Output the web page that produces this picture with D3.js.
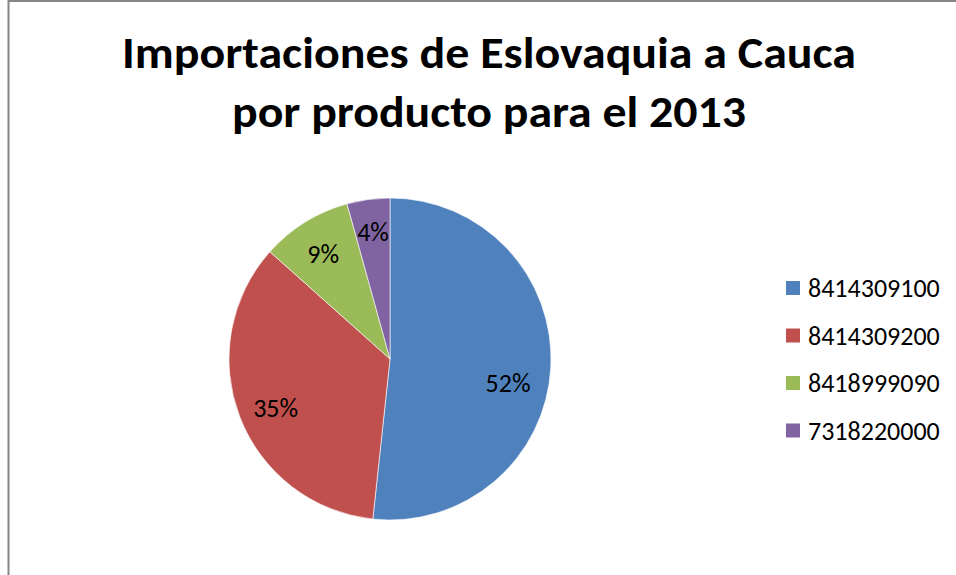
<!DOCTYPE html>
<html>
<head>
    <title>Importaciones</title>
    <script src="https://d3js.org/d3.v7.min.js"></script>
    <style>
        body { margin: 0; background: #fff; }
        svg { display: block; }
    </style>
</head>
<body>
    <svg id="chart"></svg>
    <script>
        // data
        const products = ["8414309100", "8414309200", "8418999090", "7318220000"];
        const shares = [51.7, 34.9, 9.1, 4.3];
        const colors = ["#4F81BD", "#C0504D", "#9BBB59", "#8064A2"];

        const width = 956, height = 575;
        const cx = 390, cy = 359, r = 161;
        const font = "Carlito, Calibri, Lato, sans-serif";

        const svg = d3.select("#chart")
            .attr("width", width)
            .attr("height", height);

        // chart frame (only left and top edges are visible)
        svg.append("rect")
            .attr("x", 8.5).attr("y", 1)
            .attr("width", 1000).attr("height", 700)
            .attr("fill", "#fff")
            .attr("stroke", "#868686")
            .attr("stroke-width", 2);

        // title
        const title = svg.append("text")
            .attr("text-anchor", "middle")
            .attr("font-family", font)
            .attr("font-weight", "bold")
            .attr("font-size", 44)
            .attr("fill", "#000");
        title.append("tspan").attr("x", 489).attr("y", 68).text("Importaciones de Eslovaquia a Cauca");
        title.append("tspan").attr("x", 489).attr("y", 127).text("por producto para el 2013");
        title.selectAll("tspan").each(function (d, i) {
            d3.select(this)
                .attr("textLength", i === 0 ? 734 : 514)
                .attr("lengthAdjust", "spacingAndGlyphs");
        });

        // pie
        const pie = d3.pie().sort(null).value(d => d);
        const arcs = pie(shares);
        const arc = d3.arc().innerRadius(0).outerRadius(r);
        const g = svg.append("g").attr("transform", `translate(${cx},${cy})`);

        g.selectAll("path")
            .data(arcs)
            .join("path")
            .attr("d", arc)
            .attr("fill", (d, i) => colors[i])
            .attr("stroke", "#fff")
            .attr("stroke-opacity", 0.6)
            .attr("stroke-width", 1);

        // label placement, Excel "best fit" style
        const labelRadius = [0.748, 0.772, 0.776, 0.799];
        const labelTurn = [0.147, -0.034, -0.009, 0.003];
        const fmt = d3.format(".0f");
        const total = d3.sum(shares);

        g.selectAll("text.lbl")
            .data(arcs)
            .join("text")
            .attr("class", "lbl")
            .attr("text-anchor", "middle")
            .attr("dy", "0.35em")
            .attr("font-family", font)
            .attr("font-size", 26)
            .attr("fill", "#000")
            .attr("transform", (d, i) => {
                const a = (d.startAngle + d.endAngle) / 2 + labelTurn[i];
                const rr = r * labelRadius[i];
                return `translate(${rr * Math.sin(a)},${-rr * Math.cos(a)})`;
            })
            .text(d => fmt(d.data / total * 100) + "%");

        // legend
        const legend = svg.append("g").attr("transform", "translate(786,281)");
        const row = legend.selectAll("g")
            .data(products)
            .join("g")
            .attr("transform", (d, i) => `translate(0,${i * 47.5})`);
        row.append("rect")
            .attr("width", 14).attr("height", 14)
            .attr("fill", (d, i) => colors[i]);
        row.append("text")
            .attr("x", 22).attr("y", 7)
            .attr("dy", "0.35em")
            .attr("font-family", font)
            .attr("font-size", 26)
            .attr("fill", "#000")
            .text(d => d);
    </script>
</body>
</html>
